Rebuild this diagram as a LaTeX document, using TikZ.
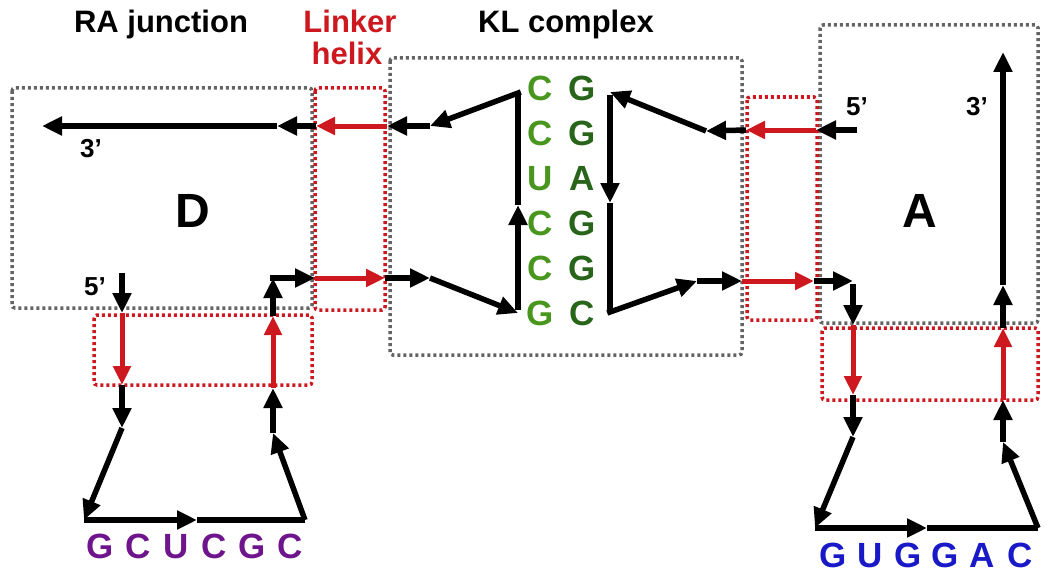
\documentclass[tikz,border=0pt]{standalone}
\usepackage{fontspec}
\setmainfont{Liberation Sans}
\usetikzlibrary{arrows.meta}
\definecolor{rr}{RGB}{204,24,30}
\definecolor{gg}{RGB}{100,100,100}
\definecolor{lgreen}{RGB}{72,150,30}
\definecolor{dgreen}{RGB}{40,100,25}
\definecolor{purp}{RGB}{110,20,140}
\definecolor{blu}{RGB}{25,25,200}
\tikzset{
  ba/.style={draw=black,line width=5.5pt,-{Triangle[length=20pt,width=18pt]}},
  ra/.style={draw=rr,line width=5pt,-{Triangle[length=19pt,width=17pt]}},
  bl/.style={draw=black,line width=5.5pt},
  gbox/.style={draw=gg,line width=3.5pt,dash pattern=on 3pt off 3pt,rounded corners=3pt},
  rbox/.style={draw=rr,line width=3.5pt,dash pattern=on 3pt off 3pt,rounded corners=3pt},
  lbl/.style={inner sep=0pt,anchor=base,font=\bfseries\fontsize{31}{33}\selectfont},
  prime/.style={inner sep=0pt,anchor=base,font=\bfseries\fontsize{26}{28}\selectfont},
  big/.style={inner sep=0pt,anchor=base,font=\bfseries\fontsize{48}{50}\selectfont},
  nuc/.style={inner sep=0pt,anchor=base,font=\bfseries\fontsize{35}{37}\selectfont},
}
\begin{document}
\begin{tikzpicture}[x=1pt,y=-1pt]
\useasboundingbox (0,0) rectangle (1050,578);
% boxes
\draw[gbox] (12,88) rectangle (312,308);
\draw[gbox] (390,58) rectangle (742,355);
\draw[gbox] (820,25) rectangle (1038,323);
\draw[rbox] (315,88) rectangle (385,310);
\draw[rbox] (94,315) rectangle (312,385);
\draw[rbox] (747,97) rectangle (817,320);
\draw[rbox] (822,328) rectangle (1038,400);
% labels
\node[lbl] (tRA) at (161,33) {RA junction};
\node[lbl,text=rr] (tLk) at (350,33) {Linker};
\node[lbl,text=rr] (tHx) at (347,65) {helix};
\node[lbl] (tKL) at (566,33) {KL complex};
\node[big] (tD) at (193,227) {D};
\node[big] (tA) at (920,227) {A};
\node[prime] (p3L) at (91,157) {3’};
\node[prime] (p5L) at (95,295) {5’};
\node[prime] (p5R) at (857,115) {5’};
\node[prime] (p3R) at (977,115) {3’};
% KL pairs
\foreach \a/\b [count=\i from 0] in {C/G,C/G,U/A,C/G,C/G,G/C}{
  \node[nuc,text=lgreen] (kl\i) at (540,100+45*\i) {\a};
  \node[nuc,text=dgreen] (kr\i) at (582,100+45*\i) {\b};
}
% loops
\foreach \l [count=\i from 0] in {G,C,U,C,G,C}{
  \node[nuc,text=purp] (dl\i) at ({100+38*\i},558) {\l};
}
\foreach \l [count=\i from 0] in {G,U,G,G,A,C}{
  \node[nuc,text=blu] (al\i) at ({833+37.4*\i},567) {\l};
}
% left strand coordinates
\coordinate (L5) at (122,273);
\coordinate (La) at (122,313);
\coordinate (Lb) at (122,385);
\coordinate (Lc) at (122,428);
\coordinate (Ld) at (84,520);
\coordinate (Le) at (197,520);
\coordinate (Lf) at (305,520);
\coordinate (Lg) at (273,433);
\coordinate (Lh) at (273,388);
\coordinate (Li) at (273,316);
\coordinate (Lj) at (273,278);
\coordinate (Lk) at (315,278);
\coordinate (Ll) at (385,278);
\coordinate (Lm) at (430,278);
\coordinate (Ln) at (518,313);
\coordinate (Lo) at (518,205);
\coordinate (Lp) at (518,92);
\coordinate (Lq) at (430,126);
\coordinate (Lr) at (387,126);
\coordinate (Ls) at (316,126);
\coordinate (Lt) at (277,126);
\coordinate (L3) at (42,126);
\draw[ba] (L5) -- (La);
\draw[ra] (La) -- (Lb);
\draw[ba] (Lb) -- (Lc);
\draw[ba] (Lc) -- (Ld);
\draw[ba] (Ld) -- (Le);
\draw[bl] (Le) -- (Lf);
\draw[ba] (Lf) -- (Lg);
\draw[ba] (Lg) -- (Lh);
\draw[ra] (Lh) -- (Li);
\draw[ba] (Li) -- (Lj);
\draw[ba] ([xshift=-2.75pt]Lj) -- (Lk);
\draw[ra] (Lk) -- (Ll);
\draw[ba] (Ll) -- (Lm);
\draw[ba] (Lm) -- (Ln);
\draw[ba] ([yshift=2.75pt]Ln) -- (Lo);
\draw[bl] (Lo) -- ([yshift=-2.75pt]Lp);
\draw[ba] ([xshift=2.75pt]Lp) -- (Lq);
\draw[ba] (Lq) -- (Lr);
\draw[ra] (Lr) -- (Ls);
\draw[ba] (Ls) -- (Lt);
\draw[ba] (Lt) -- (L3);
% right strand coordinates
\coordinate (R5) at (857,130);
\coordinate (Ra) at (816,130);
\coordinate (Rb) at (746,130);
\coordinate (Rc) at (706,131);
\coordinate (Rd) at (610,92);
\coordinate (Re) at (610,203);
\coordinate (Rf) at (610,313);
\coordinate (Rg) at (697,281);
\coordinate (Rh) at (742,281);
\coordinate (Ri) at (814,281);
\coordinate (Rj) at (853,281);
\coordinate (Rk) at (853,325);
\coordinate (Rl) at (853,395);
\coordinate (Rm) at (853,437);
\coordinate (Rn) at (815,528);
\coordinate (Ro) at (927,528);
\coordinate (Rp) at (1038,528);
\coordinate (Rq) at (1003,442);
\coordinate (Rr) at (1003,400);
\coordinate (Rs) at (1003,328);
\coordinate (Rt) at (1003,285);
\coordinate (R3) at (1003,52);
\draw[ba] (R5) -- (Ra);
\draw[ra] (Ra) -- (Rb);
\draw[ba] (Rb) -- (Rc);
\draw[ba] (Rc) -- (Rd);
\draw[ba] ([yshift=-2.75pt]Rd) -- (Re);
\draw[bl] (Re) -- ([yshift=2.75pt]Rf);
\draw[ba] ([xshift=-2.75pt]Rf) -- (Rg);
\draw[ba] (Rg) -- (Rh);
\draw[ra] (Rh) -- (Ri);
\draw[ba] (Ri) -- (Rj);
\draw[ba] ([yshift=-2.75pt]Rj) -- (Rk);
\draw[ra] (Rk) -- (Rl);
\draw[ba] (Rl) -- (Rm);
\draw[ba] (Rm) -- (Rn);
\draw[ba] (Rn) -- (Ro);
\draw[bl] (Ro) -- (Rp);
\draw[ba] (Rp) -- (Rq);
\draw[ba] (Rq) -- (Rr);
\draw[ra] (Rr) -- (Rs);
\draw[ba] (Rs) -- (Rt);
\draw[ba] (Rt) -- (R3);
\end{tikzpicture}
\end{document}
